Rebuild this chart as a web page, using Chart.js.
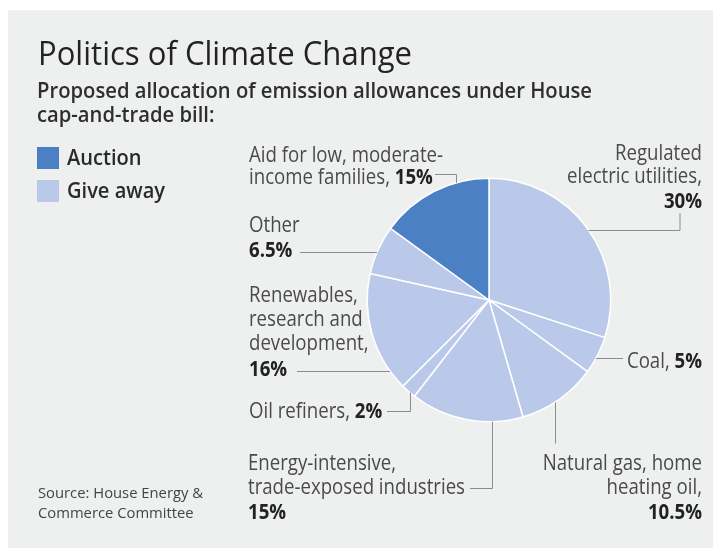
<!DOCTYPE html>
<html>
<head>
<meta charset="utf-8">
<script src="https://cdn.jsdelivr.net/npm/chart.js@4.4.0/dist/chart.umd.min.js"></script>
<style>
    html, body { margin: 0; padding: 0; background: #fff; }
    #wrap { width: 713px; height: 548px; }
</style>
</head>
<body>
<div id="wrap"><canvas id="grafico-clima" width="713" height="548"></canvas></div>
<script>
// Dados: fatias no sentido horário a partir do topo
const categorias = [
    'Regulated electric utilities',
    'Coal',
    'Natural gas, home heating oil',
    'Energy-intensive, trade-exposed industries',
    'Oil refiners',
    'Renewables, research and development',
    'Other',
    'Aid for low, moderate-income families'
];
const valores = [30, 5, 10.5, 15, 2, 16, 6.5, 15];
const grupos = ['Give away', 'Give away', 'Give away', 'Give away', 'Give away', 'Give away', 'Give away', 'Auction'];
const legendaItens = ['Auction', 'Give away'];

const titulo = 'Politics of Climate Change';
const subtitulo = ['Proposed allocation of emission allowances under House', 'cap-and-trade bill:'];
const fonte = ['Source: House Energy &', 'Commerce Committee'];

const coresGrupo = { 'Auction': '#4b80c4', 'Give away': '#bac9e9' };
const FAMILIA = '"Open Sans", "Noto Sans", sans-serif';

// Rótulos e linhas de chamada (layout, por índice de fatia)
const rotulos = [
    { alinh: 'right', x: 702, ys: [160, 183, 208], linhas: ['Regulated', 'electric utilities,'], inline: false,
      guia: { tipo: 'h', pos: 230, ate: 680, gancho: 213 } },
    { alinh: 'right', x: 702, ys: [368], linhas: ['Coal, '], inline: true,
      guia: { tipo: 'h', pos: 358, ate: 623 } },
    { alinh: 'right', x: 702, ys: [470, 494, 519], linhas: ['Natural gas, home', 'heating oil,'], inline: false,
      guia: { tipo: 'v', pos: 555, ate: 443 } },
    { alinh: 'left', x: 248, ys: [470, 494, 519], linhas: ['Energy-intensive,', 'trade-exposed industries'], inline: false,
      guia: { tipo: 'v', pos: 492, ate: 488, gancho: 470 } },
    { alinh: 'left', x: 249, ys: [418], linhas: ['Oil refiners, '], inline: true,
      guia: { tipo: 'v', pos: 410, ate: 411, gancho: 387 } },
    { alinh: 'left', x: 249, ys: [302, 326, 350, 376], linhas: ['Renewables,', 'research and', 'development,'], inline: false,
      guia: { tipo: 'h', pos: 371, ate: 297 } },
    { alinh: 'left', x: 249, ys: [232, 257], linhas: ['Other'], inline: false,
      guia: { tipo: 'h', pos: 252, ate: 300 } },
    { alinh: 'left', x: 249, ys: [162, 184], linhas: ['Aid for low, moderate-', 'income families, '], inline: true,
      guia: { tipo: 'v', pos: 456, ate: 174, gancho: 435 } }
];

// estilos de texto (condensados horizontalmente para imitar a fonte estreita)
const estilos = {
    titulo:   { size: 32, weight: 500, cor: '#232323', ref: titulo, largura: 374 },
    sub:      { size: 21, weight: 600, cor: '#2e2e2e', ref: subtitulo[0], largura: 555 },
    legenda:  { size: 22, weight: 600, cor: '#2a2a2a', ref: 'Give away', largura: 98 },
    rotulo:   { size: 21, weight: 400, cor: '#4a4a4a', ref: 'trade-exposed industries', largura: 217 },
    valor:    { size: 21, weight: 700, cor: '#222222' },
    fonte:    { size: 14, weight: 400, cor: '#444444', ref: fonte[0], largura: 165 }
};

function fontDe(e) { return `${e.weight} ${e.size}px ${FAMILIA}`; }

function calcularEscalas(ctx) {
    Object.values(estilos).forEach(e => {
        if (!e.ref) return;
        ctx.font = fontDe(e);
        e.sx = e.largura / ctx.measureText(e.ref).width;
    });
    estilos.valor.sx = estilos.rotulo.sx;
}

// desenha uma linha composta de trechos [{texto, estilo}]
function desenharTrechos(ctx, trechos, x, y, alinh) {
    const larguras = trechos.map(t => {
        ctx.font = fontDe(t.estilo);
        return ctx.measureText(t.texto).width * t.estilo.sx;
    });
    const total = larguras.reduce((a, b) => a + b, 0);
    let cx = alinh === 'right' ? x - total : x;
    trechos.forEach((t, i) => {
        ctx.save();
        ctx.font = fontDe(t.estilo);
        ctx.fillStyle = t.estilo.cor;
        ctx.textAlign = 'left';
        ctx.textBaseline = 'alphabetic';
        ctx.translate(cx, y);
        ctx.scale(t.estilo.sx, 1);
        ctx.fillText(t.texto, 0, 0);
        ctx.restore();
        cx += larguras[i];
    });
}

const pluginFundo = {
    id: 'fundo',
    beforeDraw(chart) {
        const ctx = chart.ctx;
        ctx.save();
        ctx.fillStyle = '#ffffff';
        ctx.fillRect(0, 0, chart.width, chart.height);
        ctx.fillStyle = '#eef0ef';
        ctx.fillRect(8, 10, chart.width - 8, chart.height - 10);
        ctx.restore();
    }
};

const pluginAnotacoes = {
    id: 'anotacoes',
    afterDatasetsDraw(chart) {
        const ctx = chart.ctx;
        const arco = chart.getDatasetMeta(0).data[0];
        const cxp = arco.x, cyp = arco.y, r = arco.outerRadius;

        // linhas de chamada saindo da borda da pizza
        ctx.save();
        ctx.strokeStyle = '#8c8c8c';
        ctx.lineWidth = 1;
        rotulos.forEach(rt => {
            const g = rt.guia;
            ctx.beginPath();
            if (g.tipo === 'h') {
                const sinal = g.ate > cxp ? 1 : -1;
                const xt = cxp + sinal * Math.sqrt(Math.max(r * r - (g.pos - cyp) ** 2, 0));
                ctx.moveTo(xt, g.pos + 0.5);
                ctx.lineTo(g.ate, g.pos + 0.5);
                if (g.gancho !== undefined) ctx.lineTo(g.ate, g.gancho);
            } else {
                const sinal = g.ate > cyp ? 1 : -1;
                const yt = cyp + sinal * Math.sqrt(Math.max(r * r - (g.pos - cxp) ** 2, 0));
                ctx.moveTo(g.pos + 0.5, yt);
                ctx.lineTo(g.pos + 0.5, g.ate + 0.5);
                if (g.gancho !== undefined) ctx.lineTo(g.gancho, g.ate + 0.5);
            }
            ctx.stroke();
        });
        ctx.restore();
    },
    afterDraw(chart) {
        const ctx = chart.ctx;
        calcularEscalas(ctx);

        // título e subtítulo
        desenharTrechos(ctx, [{ texto: titulo, estilo: estilos.titulo }], 38, 65, 'left');
        subtitulo.forEach((l, i) => desenharTrechos(ctx, [{ texto: l, estilo: estilos.sub }], 37, 98 + i * 24, 'left'));

        // legenda
        legendaItens.forEach((item, i) => {
            const y0 = 147 + i * 33;
            ctx.fillStyle = coresGrupo[item];
            ctx.fillRect(37, y0, 22, 22);
            desenharTrechos(ctx, [{ texto: item, estilo: estilos.legenda }], 67, y0 + 18, 'left');
        });

        // rótulos das fatias
        rotulos.forEach((rt, i) => {
            const valorTxt = `${valores[i]}%`;
            rt.linhas.forEach((linha, j) => {
                const trechos = [{ texto: linha, estilo: estilos.rotulo }];
                if (rt.inline && j === rt.linhas.length - 1) trechos.push({ texto: valorTxt, estilo: estilos.valor });
                desenharTrechos(ctx, trechos, rt.x, rt.ys[j], rt.alinh);
            });
            if (!rt.inline) {
                desenharTrechos(ctx, [{ texto: valorTxt, estilo: estilos.valor }], rt.x, rt.ys[rt.linhas.length], rt.alinh);
            }
        });

        // fonte
        fonte.forEach((l, i) => desenharTrechos(ctx, [{ texto: l, estilo: estilos.fonte }], 38, 498 + i * 20, 'left'));
    }
};

const ctxGrafico = document.getElementById('grafico-clima').getContext('2d');
const graficoClima = new Chart(ctxGrafico, {
    type: 'pie',
    data: {
        labels: categorias,
        datasets: [{
            data: valores,
            backgroundColor: grupos.map(g => coresGrupo[g]),
            borderColor: '#ffffff',
            borderWidth: 1.5
        }]
    },
    options: {
        responsive: false,
        animation: false,
        layout: { padding: { left: 366.5, right: 101.5, top: 177.5, bottom: 125.5 } },
        plugins: {
            legend: { display: false },
            tooltip: { enabled: false },
            title: { display: false }
        }
    },
    plugins: [pluginFundo, pluginAnotacoes]
});
</script>
</body>
</html>
